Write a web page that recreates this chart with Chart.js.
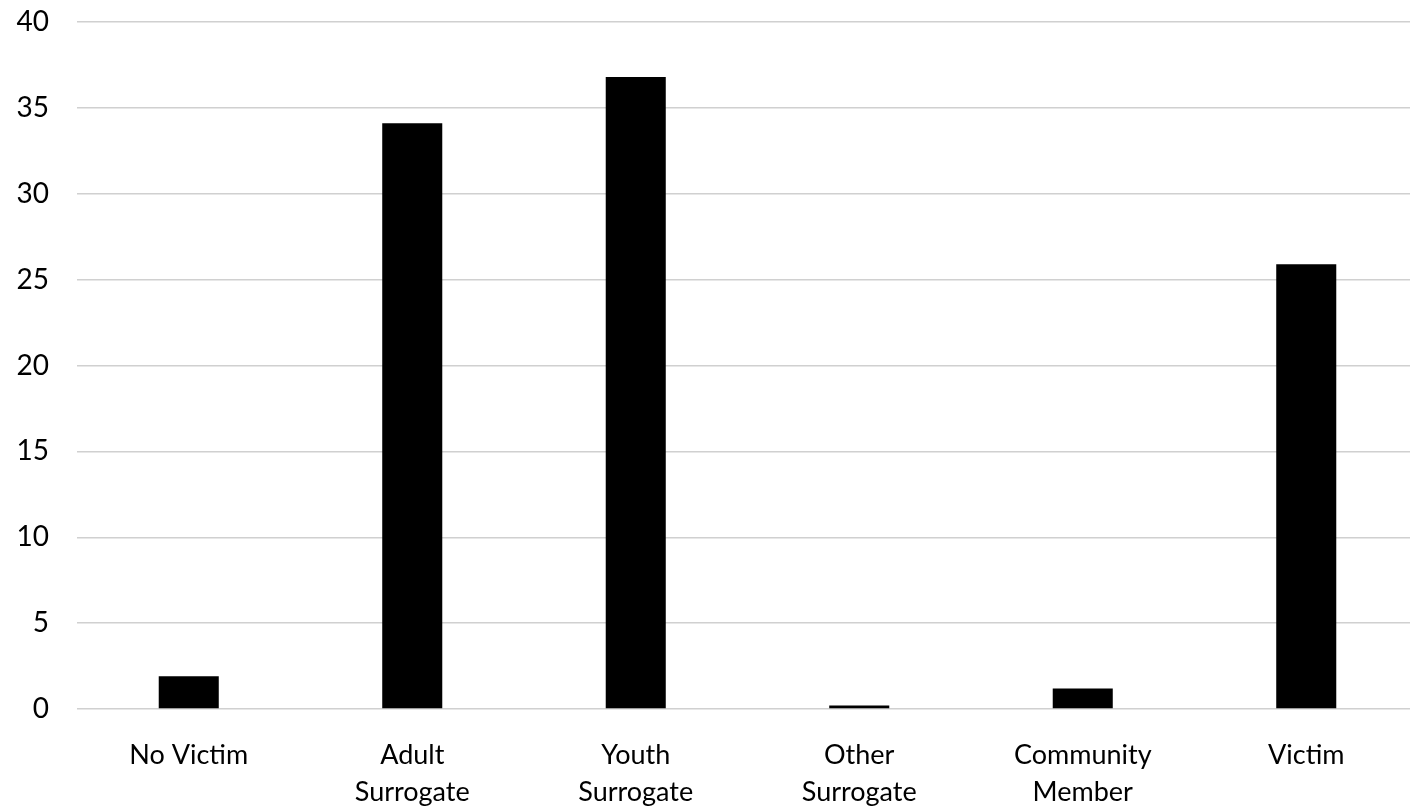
<!DOCTYPE html>
<html>
<head>
<meta charset="utf-8">
<script src="https://cdn.jsdelivr.net/npm/chart.js@4/dist/chart.umd.min.js"></script>
<style>
  html, body { margin: 0; padding: 0; background: #fff; overflow: hidden; }
  #wrap { position: relative; width: 1420px; height: 808px; }
</style>
</head>
<body>
<div id="wrap"><canvas id="c"></canvas></div>
<script>
// Victim type categories (multi-line labels as arrays)
const categories = [
  "No Victim",
  ["Adult", "Surrogate"],
  ["Youth", "Surrogate"],
  ["Other", "Surrogate"],
  ["Community", "Member"],
  "Victim"
];
const counts = [1.9, 34.1, 36.8, 0.2, 1.2, 25.9];
const yTicks = [0, 5, 10, 15, 20, 25, 30, 35, 40];

const fontFamily = "Lato, 'Noto Sans', sans-serif";

new Chart(document.getElementById("c"), {
  type: "bar",
  data: {
    labels: categories,
    datasets: [{
      data: counts,
      backgroundColor: "#000000",
      borderWidth: 0,
      categoryPercentage: 1,
      barPercentage: 0.2686
    }]
  },
  options: {
    responsive: true,
    maintainAspectRatio: false,
    animation: false,
    layout: { padding: { top: 0, right: 2, left: 0, bottom: 0 } },
    plugins: { legend: { display: false }, tooltip: { enabled: false } },
    scales: {
      x: {
        grid: { display: false },
        border: { display: false },
        ticks: {
          color: "#000",
          maxRotation: 0,
          autoSkip: false,
          padding: 19,
          font: { family: fontFamily, size: 27, lineHeight: 1.4 }
        },
        afterFit: (scale) => { scale.height = 99; }
      },
      y: {
        min: yTicks[0],
        max: yTicks[yTicks.length - 1],
        afterBuildTicks: (scale) => { scale.ticks = yTicks.map(v => ({ value: v })); },
        grid: { color: "#d0d0d0", lineWidth: 1.5, drawTicks: false },
        border: { display: false },
        ticks: {
          color: "#000",
          padding: 28,
          font: { family: fontFamily, size: 28 }
        },
        afterFit: (scale) => {
          scale.width = 77;
          scale.paddingTop = 22;
          scale.paddingBottom = 0;
        }
      }
    }
  }
});
</script>
</body>
</html>
